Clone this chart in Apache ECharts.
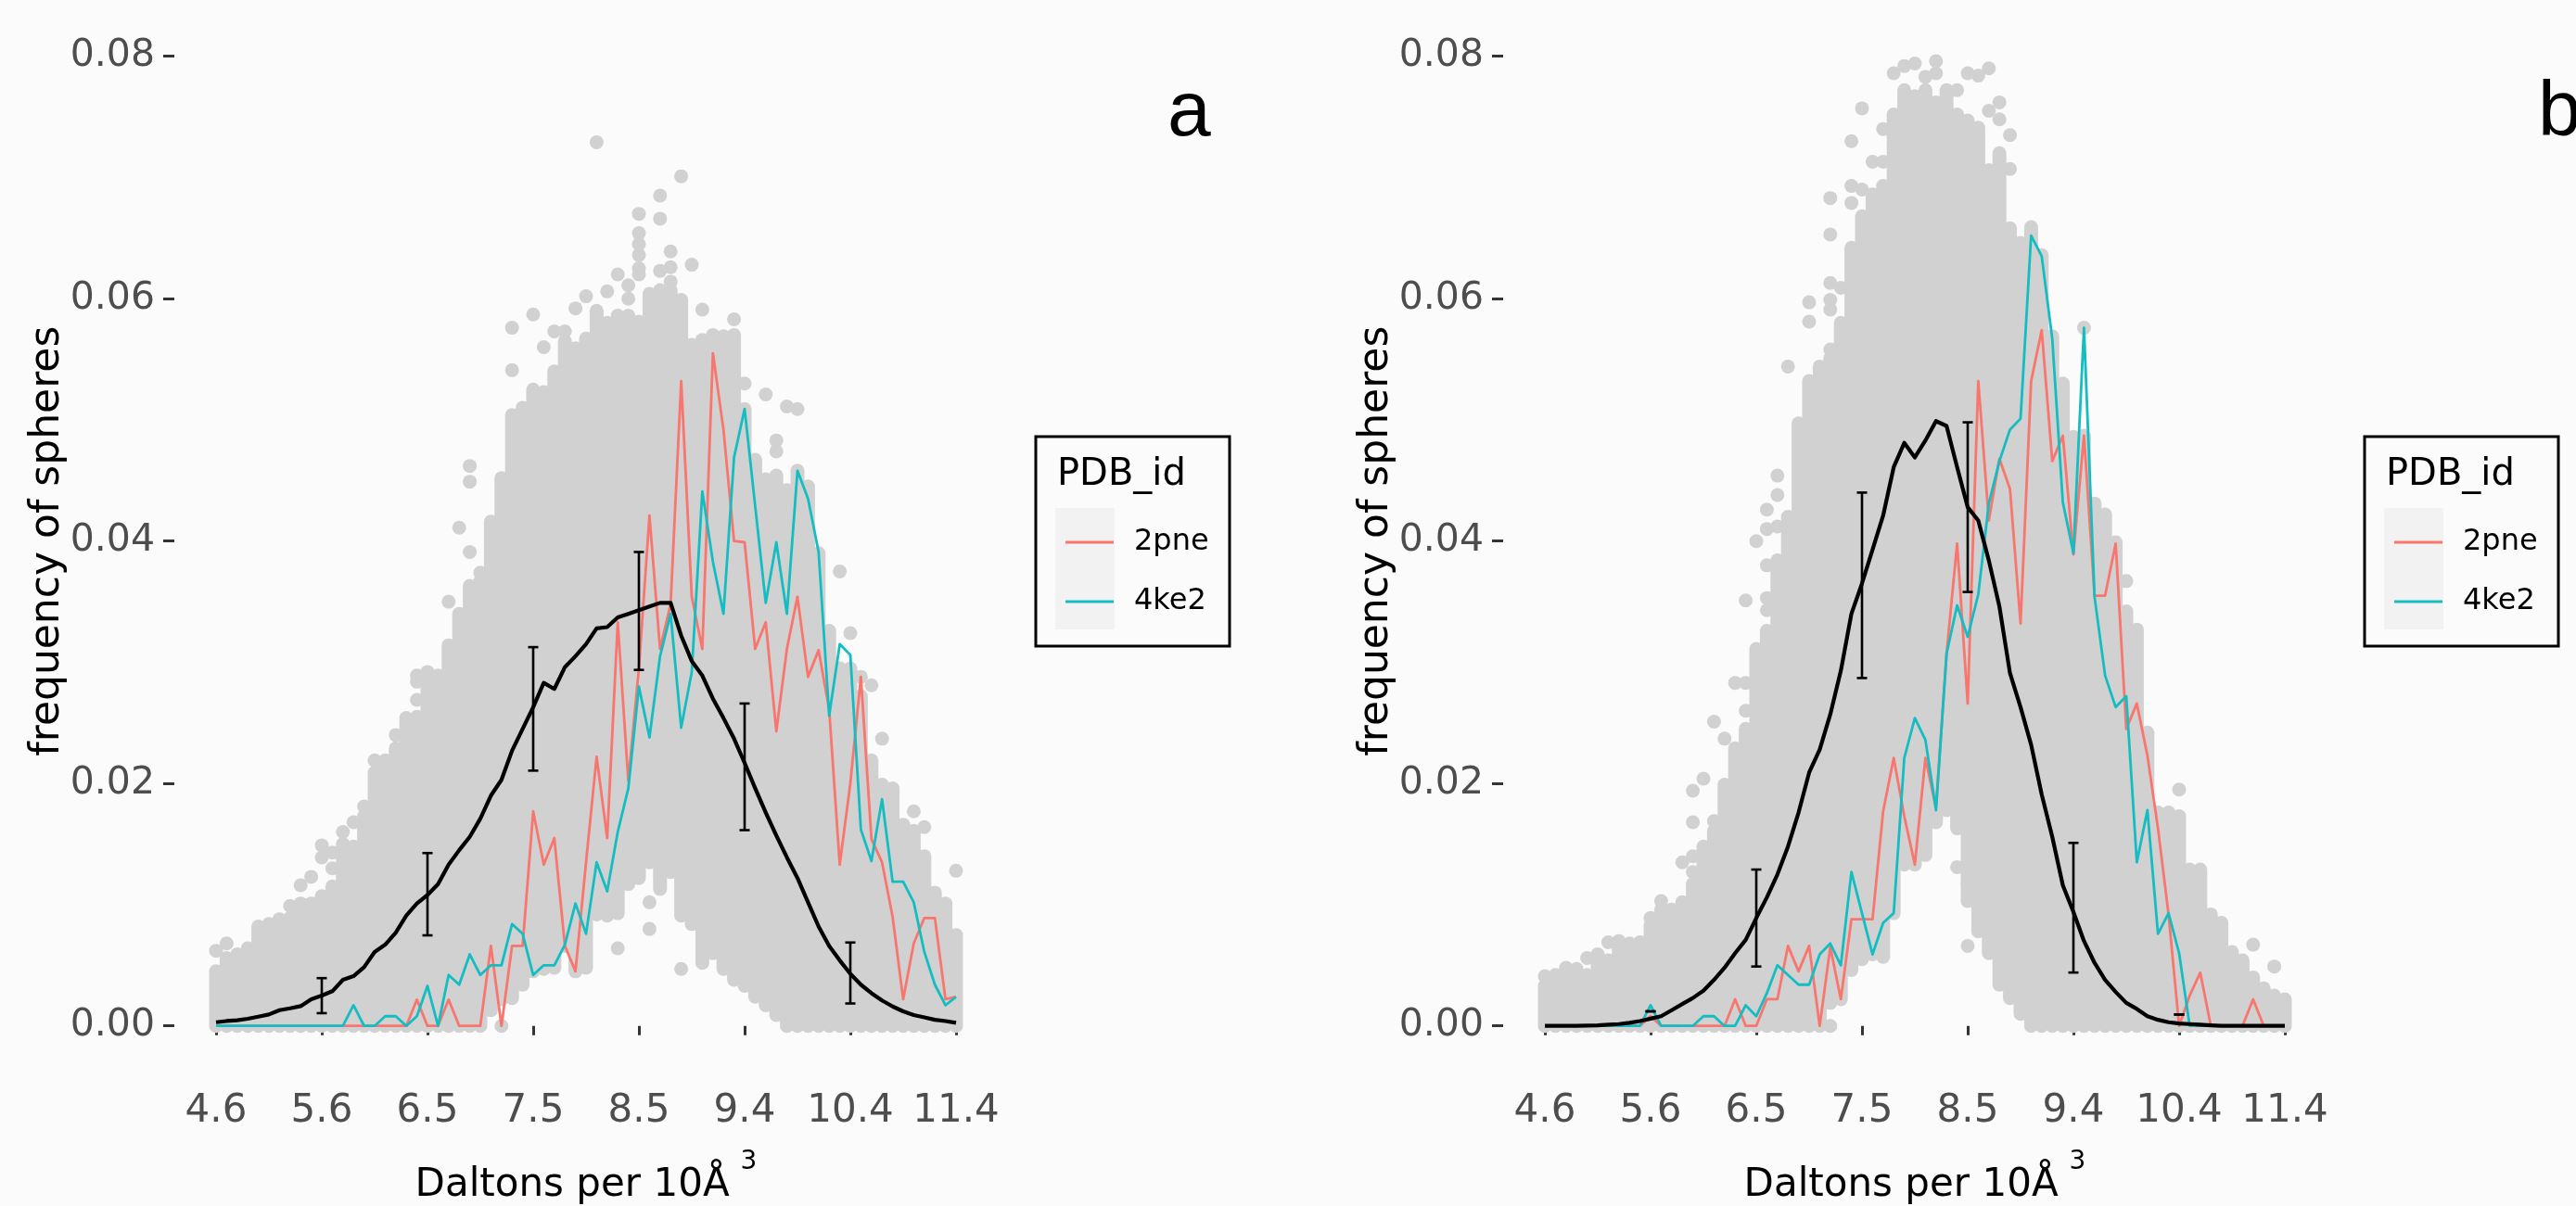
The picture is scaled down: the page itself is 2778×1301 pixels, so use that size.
<!DOCTYPE html>
<html><head><meta charset="utf-8">
<style>html,body{margin:0;padding:0;background:#fbfbfb}#c{width:2778px;height:1301px}</style>
<script src="https://cdn.jsdelivr.net/npm/echarts@6/dist/echarts.min.js"></script>
</head><body><div id="c"></div>
<script>
const tickLabels = ['4.6','5.6','6.5','7.5','8.5','9.4','10.4','11.4'];
const pointCount = 71;
const errIndex = [10,20,30,40,50,60];

const blackA = [.0003,.0004,.00046,.00059,.00076,.00094,.0013,.00145,.00163,.0022,
.0025,.00286,.0038,.0041,.00484,.0061,.0067,.0077,.0091,.0101,
.0108,.0117,.0133,.0145,.0156,.0171,.019,.0203,.0227,.0245,
.0263,.0283,.0278,.0296,.0305,.0315,.0328,.0329,.0337,.034,
.0343,.0346,.0349,.0349,.0322,.0301,.0289,.027,.0254,.0237,
.0217,.0196,.0176,.0157,.0139,.0122,.0102,.0082,.0066,.0054,
.0043,.0034,.0027,.0021,.0016,.0012,.0009,.0007,.0005,.0004,.00025];
const redA = [0,0,0,0,0,0,0,0,0,0,
0,0,0,0,0,0,0,0,0,.00217,
0,0,.00217,0,0,0,.0066,0,.0066,.0066,
.0177,.0133,.0155,.0066,.0045,.0135,.0222,.0155,.0333,.0202,
.0295,.0421,.0311,.0348,.0532,.0354,.0311,.0555,.0492,.04,
.0399,.0311,.0333,.0243,.0311,.0354,.0288,.031,.0261,.0133,
.02,.0288,.0154,.0135,.009,.0022,.0068,.0089,.0089,.0022,.0024];
const tealA = [0,0,0,0,0,0,0,0,0,0,
0,0,0,.0017,0,0,.0008,.0008,0,.0008,
.0033,0,.0042,.0034,.0059,.0042,.005,.005,.0084,.0076,
.0042,.005,.005,.0067,.0101,.0076,.0135,.0111,.016,.0196,
.028,.0238,.0305,.034,.0246,.0292,.0441,.0383,.034,.0469,
.0509,.0429,.0349,.0399,.034,.0458,.0435,.0391,.0256,.0315,
.0306,.0162,.0136,.0187,.0119,.0119,.0102,.0061,.0034,.0017,.0024];
const errLowA = [.00105,.00747,.02106,.02937,.01615,.00185];
const errHighA = [.00394,.01426,.03125,.0391,.0266,.00688];
const cloudTopA = [.0045,.0056,.0059,.0064,.0082,.0084,.0088,.0089,.0101,.0101,
.0107,.0115,.015,.0148,.0173,.0209,.0219,.0229,.0254,.0255,
.0292,.0289,.0314,.034,.0363,.0367,.0416,.0452,.0504,.051,
.0525,.0523,.054,.0565,.0559,.0567,.059,.058,.0586,.0586,
.0581,.0604,.0607,.0607,.0599,.0562,.0566,.057,.0569,.057,
.0509,.0467,.0451,.0454,.0442,.0458,.0445,.039,.0326,.0295,
.0295,.0272,.0219,.0199,.0196,.0166,.0161,.014,.011,.0101,.0075];
const cloudLowA = [0,0,0,0,0,0,0,0,0,0,
0,0,0,0,0,0,0,0,0,0,
0,0,0,0,0,0,.0013,.0022,.0023,.0034,
.0045,.0047,.0048,.0066,.0045,.0048,.0092,.0091,.0093,.0117,
.0122,.0135,.0113,.0127,.0091,.0084,.0052,.006,.0047,.0038,
.0033,.0024,.0017,.0009,0,0,0,0,0,0,
0,0,0,0,0,0,0,0,0,0,0];
const strayA = [[0,.0062],[1,.0068],[7,.0099],[8,.0116],[9,.0123],[10,.0139],[10,.0149],[11,.013],[11,.0143],[12,.016],[13,.0168],[14,.0181],[15,.0219],[17,.024],[19,.0289],[19,.0284],[19,.0269],[22,.035],[23,.0411],[24,.0391],[24,.0449],[24,.0462],[25,.0374],[28,.0541],[28,.0576],[30,.0587],[31,.056],[32,.0573],[33,.0573],[34,.0592],[35,.0602],[36,.0729],[37,.0606],[38,.062],[39,.0611],[39,.06],[40,.067],[40,.0654],[40,.0645],[40,.0636],[40,.0625],[40,.062],[42,.0685],[42,.0666],[42,.0623],[43,.0639],[43,.0626],[43,.0614],[44,.0701],[45,.0628],[46,.0591],[49,.0583],[50,.053],[52,.0521],[53,.0483],[53,.0474],[54,.0511],[55,.0509],[59,.0375],[60,.0324],[61,.0288],[62,.0281],[63,.0237],[66,.0177],[67,.0164],[70,.0128],[27,0],[38,.0064],[41,.008],[41,.0102],[44,.0047]];

const blackB = [0,0,0,0,.00002,.00005,.0001,.00015,.00025,.0004,
.0006,.0008,.0013,.0018,.0023,.0029,.0038,.0048,.006,.0071,
.0089,.0106,.0125,.0148,.0176,.0209,.0228,.0257,.0293,.034,
.0365,.0393,.0421,.0461,.0481,.0469,.0483,.0499,.0495,.0461,
.0428,.0417,.0384,.0346,.0291,.0263,.0232,.0191,.0156,.0116,
.0094,.007,.0052,.0038,.0028,.0019,.0014,.0008,.0005,.0003,
.0002,.00015,.0001,.00005,0,0,0,0,0,0,0];
const redB = [0,0,0,0,0,0,0,0,0,0,
.0008,0,0,0,0,0,0,0,.0022,0,
0,.0022,.0022,.0066,.0045,.0066,0,.0065,.0022,.0088,
.0088,.0088,.0177,.0221,.0173,.0133,.0221,.018,.0307,.0398,
.0266,.0532,.0417,.0468,.0443,.0332,.0532,.0574,.0466,.0487,
.0389,.0487,.0355,.0355,.0398,.0245,.0266,.0223,.0163,.0092,
0,.0025,.0044,0,0,0,0,.0022,0,0,0];
const tealB = [0,0,0,0,0,0,0,0,0,0,
.0017,0,0,0,0,.0008,.0008,0,0,.0017,
.0008,.0027,.005,.0042,.0034,.0034,.0059,.0068,.005,.0127,
.0093,.0059,.0085,.0093,.0221,.0254,.0236,.0178,.0307,.0347,
.0321,.0356,.0431,.0466,.0492,.0501,.0652,.0635,.0567,.0432,
.039,.0576,.0354,.0289,.0263,.0272,.0135,.0178,.0076,.0093,
.006,0,0,0,0,0,0,0,0,0,0];
const errLowB = [.0012,.0049,.0287,.0358,.0044,.00094];
const errHighB = [.0012,.0129,.044,.0498,.0151,.00094];
const cloudTopB = [.0033,.0042,.0048,.0047,.0042,.0059,.0054,.007,.0068,.0069,
.0083,.0096,.0087,.0094,.0117,.0148,.0161,.0199,.0229,.0245,
.0311,.0326,.0384,.042,.0497,.0532,.0544,.0551,.058,.0642,
.0668,.0686,.0693,.0752,.0772,.0767,.0772,.0762,.0772,.0752,
.0747,.0741,.0706,.072,.0658,.0646,.0659,.0636,.0569,.053,
.0486,.0487,.0431,.0422,.0399,.0342,.0327,.0242,.0176,.0176,
.0173,.0129,.0129,.0092,.0085,.0061,.0054,.004,.0031,.0025,.0022];
const cloudLowB = [0,0,0,0,0,0,0,0,0,0,
0,0,0,0,0,0,0,0,0,0,
0,0,0,0,0,0,0,.0019,.0022,.0046,
.0055,.0059,.0057,.0093,.0133,.0133,.0141,.0168,.0178,.0163,
.0103,.0078,.006,.0034,.0023,.001,0,0,0,0,
0,0,0,0,0,0,0,0,0,0,
0,0,0,0,0,0,0,0,0,0,0];
const strayB = [[0,.0041],[4,.0056],[6,.0069],[10,.0089],[11,.0103],[12,.0096],[13,.0102],[13,.0135],[14,.0127],[14,.014],[14,.0168],[14,.0194],[15,.0204],[16,.0169],[16,.0251],[17,.0237],[18,.0283],[19,.0283],[19,.026],[19,.0351],[20,.04],[21,.0343],[21,.0353],[21,.038],[21,.041],[21,.0426],[22,.0412],[22,.0438],[22,.0454],[23,.0544],[25,.0581],[25,.0597],[27,.0558],[27,.0591],[27,.0599],[27,.0613],[27,.0653],[27,.0683],[28,.0609],[29,.0679],[29,.0693],[29,.073],[30,.069],[30,.0757],[31,.0713],[32,.0713],[32,.074],[33,.0786],[34,.0792],[35,.0794],[36,.0783],[37,.0786],[37,.0796],[39,.0772],[40,.0786],[41,.0784],[42,.0755],[42,.079],[43,.0748],[43,.0762],[44,.0707],[44,.0735],[51,.0576],[55,.0367],[60,.0195],[67,.0067],[69,.0049],[27,0],[39,.0131],[40,.0066],[40,.0117]];

const FONT = '"DejaVu Sans"';
const GRAY = '#d1d1d1', RED = '#F8766D', TEAL = '#14BDC1';
const DOT = 15;
const categories = Array.from({length: pointCount}, (_, i) => i % 10 === 0 ? tickLabels[i / 10] : String(i));

function cloudItem(params, api) {
  const a = api.coord([api.value(0), api.value(1)]);
  const b = api.coord([api.value(0), api.value(2)]);
  return {type: 'line', shape: {x1: a[0], y1: a[1], x2: b[0], y2: b[1]},
    style: {stroke: GRAY, lineWidth: DOT, lineCap: 'round', fill: null}};
}
function errItem(params, api) {
  const a = api.coord([api.value(0), api.value(1)]);
  const b = api.coord([api.value(0), api.value(2)]);
  const s = {stroke: '#000', lineWidth: 2.6, fill: null};
  const cap = 5.5;
  return {type: 'group', children: [
    {type: 'line', shape: {x1: a[0], y1: a[1], x2: b[0], y2: b[1]}, style: s},
    {type: 'line', shape: {x1: a[0]-cap, y1: a[1], x2: a[0]+cap, y2: a[1]}, style: s},
    {type: 'line', shape: {x1: b[0]-cap, y1: b[1], x2: b[0]+cap, y2: b[1]}, style: s}
  ]};
}
const lineSeries = (name, data, idx, color, width, z) => ({
  name, type: 'line', xAxisIndex: idx, yAxisIndex: idx, data, showSymbol: false, symbol: 'none',
  clip: false, silent: true, animation: false, z,
  lineStyle: {color, width, join: 'round'}, itemStyle: {color}
});
function panelSeries(idx, top, low, stray, red, teal, black, eLow, eHigh) {
  return [
    {type: 'custom', xAxisIndex: idx, yAxisIndex: idx, clip: false, silent: true, animation: false, z: 1,
     renderItem: cloudItem, encode: {x: 0, y: [1, 2]}, data: top.map((t, i) => [i, low[i], t])},
    {type: 'scatter', xAxisIndex: idx, yAxisIndex: idx, clip: false, silent: true, animation: false, z: 2,
     symbolSize: DOT, itemStyle: {color: GRAY, opacity: 1}, data: stray},
    lineSeries('2pne', red, idx, RED, 2.8, 3),
    lineSeries('4ke2', teal, idx, TEAL, 2.8, 4),
    {type: 'custom', xAxisIndex: idx, yAxisIndex: idx, clip: false, silent: true, animation: false, z: 5,
     renderItem: errItem, encode: {x: 0, y: [1, 2]}, data: errIndex.map((x, i) => [x, eLow[i], eHigh[i]])},
    lineSeries('mean', black, idx, '#000', 4.2, 6)
  ];
}
const GRID_W = 798, GRID_TOP = 60.7, GRID_H = 1046;
const lefts = [233, 1666];
const legendDx = [0, 1433];
function legendBox(dx) {
  return [
    {type: 'rect', shape: {x: 1117 + dx, y: 471, width: 209, height: 226}, style: {fill: 'transparent', stroke: '#000', lineWidth: 3}, z: 0},
    {type: 'rect', shape: {x: 1138 + dx, y: 548, width: 64, height: 131}, style: {fill: '#f2f2f2'}, z: 0},
    {type: 'text', x: 1140 + dx, y: 513, style: {text: 'PDB_id', font: '40px ' + FONT, fill: '#000', textVerticalAlign: 'middle'}, z: 1}
  ];
}
const option = {
  backgroundColor: '#fbfbfb', animation: false,
  title: [
    {text: 'a', left: 1254, top: 76, textStyle: {fontFamily: '"Liberation Sans"', fontSize: 84, fontWeight: 'normal', color: '#000'}},
    {text: 'b', left: 2732, top: 76, textStyle: {fontFamily: '"Liberation Sans"', fontSize: 84, fontWeight: 'normal', color: '#000'}}
  ],
  grid: lefts.map(l => ({left: l, top: GRID_TOP, width: GRID_W, height: GRID_H, containLabel: false, outerBoundsMode: 'none'})),
  legend: legendDx.map(dx => ({
    data: ['2pne', '4ke2'], orient: 'vertical', left: 1144 + dx, top: 564, icon: 'rect', itemWidth: 52, itemHeight: 3, itemGap: 32,
    selectedMode: false, textStyle: {fontFamily: FONT, fontSize: 32, color: '#000', padding: [0, 0, 0, 17]}
  })),
  xAxis: lefts.map((l, g) => ({
    gridIndex: g, position: 'bottom',
    type: 'category', data: categories, boundaryGap: false, offset: 53,
    axisLine: {show: false},
    axisTick: {show: true, length: 10, interval: 9, alignWithLabel: true, lineStyle: {color: '#333', width: 3}},
    axisLabel: {interval: 9, margin: 18, fontFamily: FONT, fontSize: 42, color: '#4d4d4d', hideOverlap: false},
    splitLine: {show: false},
    name: '{a|Daltons per 10Å}{b|3}', nameLocation: 'middle', nameGap: 80, nameMoveOverlap: false,
    nameTextStyle: {rich: {a: {fontFamily: FONT, fontSize: 42, color: '#000'},
      b: {fontFamily: FONT, fontSize: 28, color: '#000', padding: [0, 0, 50, 12]}}}
  })),
  yAxis: lefts.map((l, g) => ({
    gridIndex: g, position: 'left',
    type: 'value', min: 0, max: 0.08, interval: 0.02, offset: 45,
    axisLine: {show: false}, splitLine: {show: false},
    axisTick: {show: true, length: 12, lineStyle: {color: '#333', width: 3}},
    axisLabel: {margin: 21, fontFamily: FONT, fontSize: 41, color: '#4d4d4d', formatter: v => v.toFixed(2)},
    name: 'frequency of spheres', nameLocation: 'middle', nameGap: 114, nameRotate: 90, nameMoveOverlap: false,
    nameTextStyle: {fontFamily: FONT, fontSize: 44, color: '#000'}
  })),
  graphic: {elements: legendBox(legendDx[0]).concat(legendBox(legendDx[1]))},
  series: [
    ...panelSeries(0, cloudTopA, cloudLowA, strayA, redA, tealA, blackA, errLowA, errHighA),
    ...panelSeries(1, cloudTopB, cloudLowB, strayB, redB, tealB, blackB, errLowB, errHighB)
  ]
};
const chart = echarts.init(document.getElementById('c'), null, {renderer: 'canvas', width: 2778, height: 1301});
chart.setOption(option);
</script></body></html>
